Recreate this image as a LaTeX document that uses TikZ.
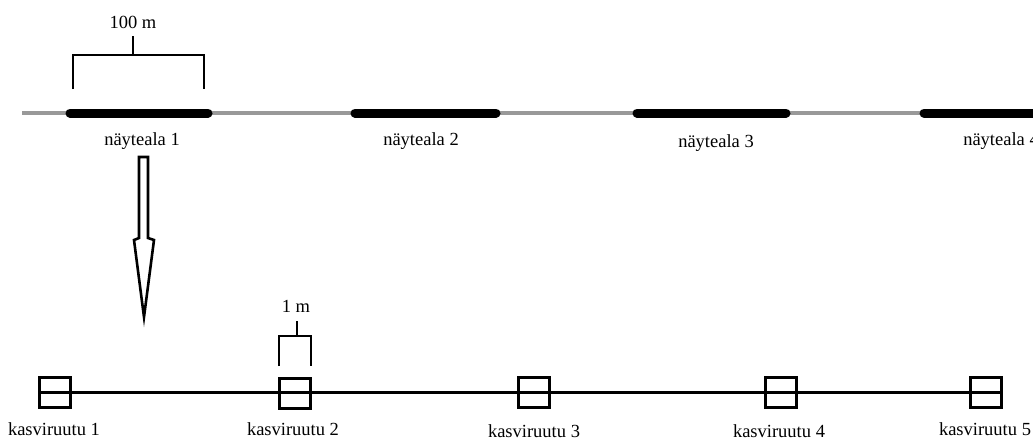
\documentclass[tikz,border=0pt]{standalone}
\usepackage{fontspec}
\setmainfont{Liberation Serif}
\begin{document}
\begin{tikzpicture}[x=1pt,y=-1pt,
  lbl/.style={font=\fontsize{18.5}{22}\selectfont, inner sep=0pt, anchor=base},
  plot/.style={draw, line width=3pt, minimum width=31pt, minimum height=30pt, inner sep=0pt},
  brk/.style={line width=1.2pt},
  thin/.style={line width=3.5pt, gray!80},
  thick/.style={line width=9pt, line cap=round}]
\clip (0,0) rectangle (1033,440);
\useasboundingbox (0,0) rectangle (1033,440);
% transect
\coordinate (t0) at (22,113);
\coordinate (t1) at (1040,113);
\draw[thin] (t0) -- (t1);
\coordinate (a1) at (70,113); \coordinate (b1) at (208,113);
\coordinate (a2) at (355,113); \coordinate (b2) at (496,113);
\coordinate (a3) at (637,113); \coordinate (b3) at (786,113);
\coordinate (a4) at (924,113); \coordinate (b4) at (1045,113);
\draw[thick] (a1) -- (b1);
\draw[thick] (a2) -- (b2);
\draw[thick] (a3) -- (b3);
\draw[thick] (a4) -- (b4);
\node[lbl] (n1) at (142,145) {näyteala 1};
\node[lbl] (n2) at (421,145) {näyteala 2};
\node[lbl] (n3) at (716,147) {näyteala 3};
\node[lbl] (n4) at (1001,145) {näyteala 4};
% 100 m bracket
\node[lbl] (m100) at (133,28) {100 m};
\coordinate (k0) at (133,36);
\coordinate (k1) at (133,55);
\coordinate (L0) at (73,89); \coordinate (L1) at (73,55);
\coordinate (R0) at (204,89); \coordinate (R1) at (204,55);
\draw[brk] (k0) -- (k1);
\draw[brk] (L0) -- (L1) -- (R1) -- (R0);
% arrow
\coordinate (p1) at (139,157);
\coordinate (p2) at (148,157);
\coordinate (p3) at (148,238);
\coordinate (p4) at (154,240);
\coordinate (p5) at (144,317);
\coordinate (p6) at (134,240);
\coordinate (p7) at (139,238);
\draw[line width=2.6pt, line join=miter] (p1) -- (p2) -- (p3) -- (p4) -- (p5) -- (p6) -- (p7) -- cycle;
\draw[line width=2.6pt] (p5) -- (144,319);
% plots
\node[plot] (s1) at (55,392) {};
\node[plot] (s2) at (295,393) {};
\node[plot] (s3) at (534,392) {};
\node[plot] (s4) at (781,392) {};
\node[plot] (s5) at (986,392) {};
\draw[line width=3pt] (s1.west) -- (s5.east);
\node[lbl] (k1l) at (54,435) {kasviruutu 1};
\node[lbl] (k2l) at (293,435) {kasviruutu 2};
\node[lbl] (k3l) at (534,437) {kasviruutu 3};
\node[lbl] (k4l) at (779,437) {kasviruutu 4};
\node[lbl] (k5l) at (985,435) {kasviruutu 5};
% 1 m bracket
\node[lbl] (m1) at (296,312) {1 m};
\coordinate (q0) at (297,321);
\coordinate (q1) at (297,336);
\coordinate (Q0) at (279,366); \coordinate (Q1) at (279,336);
\coordinate (W0) at (311,366); \coordinate (W1) at (311,336);
\draw[brk] (q0) -- (q1);
\draw[brk] (Q0) -- (Q1) -- (W1) -- (W0);
\end{tikzpicture}
\end{document}
